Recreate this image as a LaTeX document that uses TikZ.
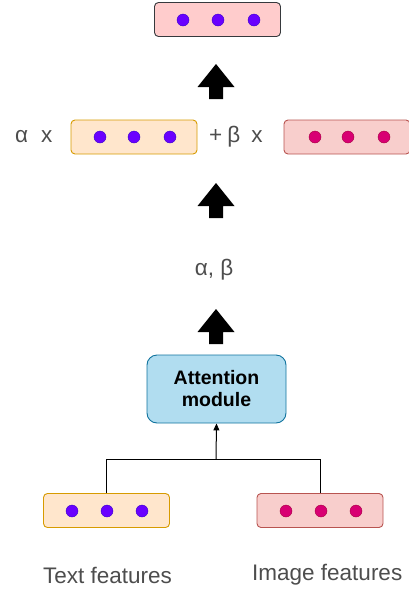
\documentclass[tikz,border=0pt]{standalone}
\usepackage{fontspec}
\setmainfont{Liberation Sans}
\usetikzlibrary{arrows.meta}
\definecolor{txtgray}{HTML}{4D4D4D}
\definecolor{pinkfill}{HTML}{FFCCCC}
\definecolor{pinkstroke}{HTML}{36393D}
\definecolor{orfill}{HTML}{FFE6CC}
\definecolor{orstroke}{HTML}{D79B00}
\definecolor{redfill}{HTML}{F8CECC}
\definecolor{redstroke}{HTML}{B85450}
\definecolor{bluefill}{HTML}{B1DDF0}
\definecolor{bluestroke}{HTML}{10739E}
\definecolor{purpledot}{HTML}{6A00FF}
\definecolor{purpledotline}{HTML}{3700CC}
\definecolor{magdot}{HTML}{D80073}
\definecolor{magdotline}{HTML}{A50040}
\tikzset{
  featbox/.style={rounded corners=4pt, line width=0.9pt, minimum width=126pt, minimum height=34pt, inner sep=0pt},
  topbox/.style={featbox, fill=pinkfill, draw=pinkstroke},
  textbox/.style={featbox, fill=orfill, draw=orstroke},
  imgbox/.style={featbox, fill=redfill, draw=redstroke},
  pdot/.style={circle, fill=purpledot, draw=purpledotline, line width=0.4pt, minimum size=12pt, inner sep=0pt},
  mdot/.style={circle, fill=magdot, draw=magdotline, line width=0.4pt, minimum size=12pt, inner sep=0pt},
  lbl/.style={text=txtgray, font=\fontsize{22.5}{26}\selectfont, inner sep=0pt},
  attn/.style={rounded corners=10pt, fill=bluefill, draw=bluestroke, line width=0.9pt, minimum width=139pt, minimum height=68pt, align=center, font=\fontsize{19.5}{23}\selectfont\bfseries, inner sep=0pt},
  conn/.style={draw=black, line width=1pt}
}
\newcommand{\bigup}[2]{% x, top y
  \fill[black] (#1,#2) -- (#1+18.5,#2+23) -- (#1+7,#2+23) -- (#1+7,#2+35) -- (#1-7,#2+35) -- (#1-7,#2+23) -- (#1-18.5,#2+23) -- cycle;}
\begin{document}
\begin{tikzpicture}[x=1pt,y=-1pt]
\useasboundingbox (0,0) rectangle (409,590);
% top box
\node[topbox] (top) at (217.5,19.5) {};
\node[pdot] (t1) at (183,20) {};
\node[pdot] (t2) at (218,20) {};
\node[pdot] (t3) at (254,20) {};
% arrows
\bigup{216}{64}
\bigup{216}{183}
\bigup{216}{309}
% row 2
\node[lbl, anchor=west] (ax) at (15,137) {α\hspace{13pt}x};
\node[textbox] (mt) at (134,137) {};
\node[pdot] (m1) at (100,137) {};
\node[pdot] (m2) at (134,137) {};
\node[pdot] (m3) at (170,137) {};
\node[lbl, anchor=west] (bx) at (209,137) {+\hspace{5pt}β\hspace{11pt}x};
\node[imgbox] (mi) at (347,137) {};
\node[mdot] (n1) at (315,137) {};
\node[mdot] (n2) at (348,137) {};
\node[mdot] (n3) at (384,137) {};
% alpha beta
\node[lbl] (ab) at (214,270) {α, β};
% attention
\node[attn] (att) at (216.5,389) {Attention\\[-1pt]module};
% bottom boxes
\node[textbox] (tf) at (106.5,510.5) {};
\node[pdot] (b1) at (72,511) {};
\node[pdot] (b2) at (107,511) {};
\node[pdot] (b3) at (142,511) {};
\node[imgbox] (if) at (320,510.5) {};
\node[mdot] (c1) at (286,511) {};
\node[mdot] (c2) at (321,511) {};
\node[mdot] (c3) at (356,511) {};
\coordinate (j) at (216,459);
\draw[conn] (tf.north) |- (j);
\draw[conn] (if.north) |- (j);
\draw[conn, -{Triangle[length=7pt,width=6pt]}] (j) -- (att.south);
% labels
\node[lbl, anchor=west] (tl) at (43,575) {Text features};
\node[lbl, anchor=west] (il) at (252,575) {Image features};
\end{tikzpicture}
\end{document}
